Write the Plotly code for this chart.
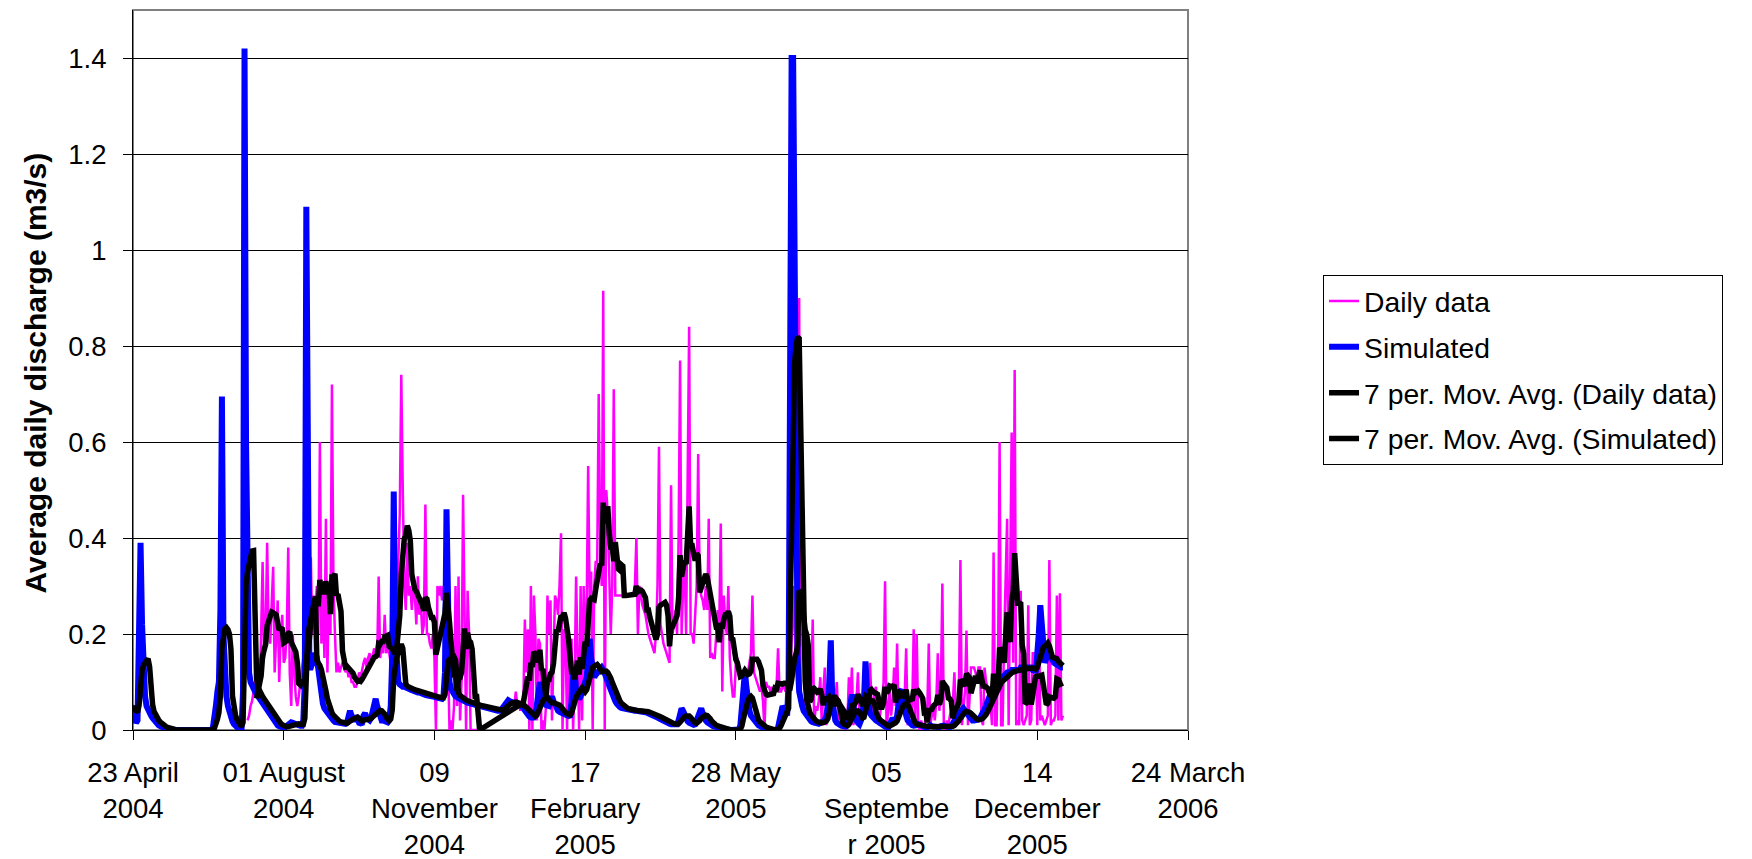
import pandas as pd
import plotly.graph_objects as go

# Series start dates (one value per day)
sim_start = "2004-04-17"
daily_start = "2004-07-08"

# Simulated average daily discharge (m3/s)
simulated = [
    0.05, 0.05, 0.05, 0.05, 0.05, 0.048, 0.045, 0.03, 0.015, 0.02,
    0.15, 0.39, 0.22, 0.12, 0.07, 0.05, 0.04, 0.035, 0.03, 0.025,
    0.02, 0.015, 0.012, 0.01, 0.008, 0.006, 0.005, 0.004, 0.003, 0.002,
    0.001, 0, 0, 0, 0, 0, 0, 0, 0, 0,
    0, 0, 0, 0, 0, 0, 0, 0, 0, 0,
    0, 0, 0, 0, 0, 0, 0, 0, 0, 0.005,
    0.02, 0.05, 0.08, 0.1, 0.25, 0.695, 0.2, 0.1, 0.07, 0.05,
    0.035, 0.025, 0.018, 0.012, 0.008, 0.005, 0.003, 0.002, 0.001, 0.08,
    1.42, 0.6, 0.2, 0.12, 0.1, 0.09, 0.085, 0.08, 0.075, 0.07,
    0.065, 0.06, 0.055, 0.05, 0.045, 0.04, 0.035, 0.03, 0.025, 0.02,
    0.016, 0.013, 0.01, 0.008, 0.006, 0.005, 0.005, 0.006, 0.008, 0.012,
    0.015, 0.016, 0.015, 0.013, 0.012, 0.01, 0.01, 0.009, 0.009, 0.02,
    0.1, 1.09, 0.15, 0.13, 0.13, 0.14, 0.15, 0.16, 0.15, 0.12,
    0.09, 0.07, 0.055, 0.045, 0.04, 0.035, 0.03, 0.025, 0.022, 0.02,
    0.017, 0.016, 0.015, 0.015, 0.014, 0.014, 0.013, 0.013, 0.015, 0.03,
    0.04, 0.03, 0.02, 0.018, 0.03, 0.02, 0.015, 0.014, 0.015, 0.03,
    0.035, 0.025, 0.02, 0.02, 0.025, 0.035, 0.05, 0.065, 0.05, 0.035,
    0.025, 0.02, 0.02, 0.018, 0.017, 0.016, 0.02, 0.05, 0.15, 0.497,
    0.2, 0.12, 0.1, 0.095, 0.09, 0.09, 0.09, 0.088, 0.086, 0.085,
    0.084, 0.083, 0.082, 0.08, 0.08, 0.078, 0.078, 0.076, 0.075, 0.074,
    0.073, 0.072, 0.072, 0.071, 0.07, 0.07, 0.069, 0.068, 0.067, 0.066,
    0.066, 0.065, 0.07, 0.12, 0.46, 0.15, 0.1, 0.085, 0.078, 0.074,
    0.07, 0.068, 0.066, 0.064, 0.062, 0.06, 0.06, 0.058, 0.057, 0.056,
    0.055, 0.054, 0.053, 0.052, 0.051, 0.05, 0.05, 0.049, 0.048, 0.047,
    0.046, 0.045, 0.045, 0.044, 0.043, 0.042, 0.042, 0.041, 0.04, 0.04,
    0.04, 0.045, 0.05, 0.055, 0.06, 0.062, 0.06, 0.058, 0.057, 0.056,
    0.055, 0.055, 0.054, 0.052, 0.05, 0.045, 0.04, 0.035, 0.03, 0.028,
    0.026, 0.025, 0.026, 0.03, 0.05, 0.09, 0.1, 0.07, 0.06, 0.055,
    0.052, 0.05, 0.05, 0.06, 0.07, 0.06, 0.05, 0.045, 0.04, 0.038,
    0.036, 0.034, 0.032, 0.03, 0.03, 0.029, 0.03, 0.06, 0.12, 0.13,
    0.08, 0.07, 0.065, 0.07, 0.08, 0.09, 0.1, 0.11, 0.15, 0.19,
    0.15, 0.12, 0.11, 0.115, 0.12, 0.125, 0.13, 0.13, 0.125, 0.12,
    0.11, 0.1, 0.09, 0.08, 0.07, 0.065, 0.06, 0.055, 0.05, 0.048,
    0.046, 0.045, 0.044, 0.043, 0.042, 0.041, 0.04, 0.04, 0.04, 0.04,
    0.04, 0.04, 0.04, 0.04, 0.039, 0.038, 0.037, 0.036, 0.035, 0.034,
    0.033, 0.032, 0.03, 0.028, 0.026, 0.024, 0.022, 0.02, 0.018, 0.016,
    0.015, 0.014, 0.013, 0.012, 0.012, 0.011, 0.011, 0.012, 0.02, 0.035,
    0.045, 0.04, 0.03, 0.022, 0.018, 0.015, 0.013, 0.012, 0.011, 0.012,
    0.02, 0.03, 0.04, 0.045, 0.035, 0.025, 0.02, 0.016, 0.013, 0.011,
    0.009, 0.008, 0.007, 0.006, 0.005, 0.004, 0.003, 0.002, 0.001, 0,
    0, 0, 0, 0, 0, 0, 0, 0, 0.001, 0.01,
    0.05, 0.1, 0.12, 0.09, 0.06, 0.04, 0.03, 0.025, 0.02, 0.015,
    0.012, 0.01, 0.008, 0.006, 0.004, 0.003, 0.002, 0.001, 0, 0,
    0, 0, 0, 0, 0.005, 0.02, 0.04, 0.05, 0.045, 0.035,
    0.03, 0.1, 1.38, 1.4, 1.4, 1.0, 0.3, 0.15, 0.08, 0.06,
    0.05, 0.04, 0.035, 0.03, 0.025, 0.02, 0.018, 0.016, 0.015, 0.014,
    0.013, 0.013, 0.015, 0.018, 0.02, 0.02, 0.03, 0.05, 0.1, 0.187,
    0.06, 0.03, 0.02, 0.015, 0.012, 0.01, 0.009, 0.008, 0.007, 0.007,
    0.01, 0.03, 0.06, 0.074, 0.05, 0.03, 0.02, 0.015, 0.012, 0.02,
    0.03, 0.06, 0.143, 0.08, 0.05, 0.035, 0.03, 0.025, 0.022, 0.02,
    0.018, 0.015, 0.012, 0.01, 0.008, 0.007, 0.006, 0.005, 0.01, 0.02,
    0.025, 0.02, 0.02, 0.03, 0.06, 0.08, 0.084, 0.06, 0.04, 0.03,
    0.02, 0.015, 0.012, 0.01, 0.009, 0.008, 0.01, 0.012, 0.01, 0.008,
    0.007, 0.006, 0.005, 0.005, 0.008, 0.01, 0.008, 0.007, 0.006, 0.005,
    0.005, 0.006, 0.008, 0.01, 0.009, 0.008, 0.007, 0.006, 0.006, 0.008,
    0.012, 0.02, 0.025, 0.03, 0.035, 0.04, 0.045, 0.045, 0.04, 0.035,
    0.03, 0.025, 0.022, 0.02, 0.02, 0.02, 0.02, 0.022, 0.025, 0.03,
    0.035, 0.04, 0.05, 0.06, 0.07, 0.08, 0.085, 0.09, 0.095, 0.1,
    0.1, 0.105, 0.11, 0.11, 0.115, 0.12, 0.12, 0.12, 0.12, 0.125,
    0.125, 0.125, 0.125, 0.125, 0.125, 0.13, 0.13, 0.13, 0.13, 0.13,
    0.13, 0.13, 0.13, 0.125, 0.125, 0.12, 0.15, 0.2, 0.26, 0.2,
    0.15, 0.14, 0.15, 0.17, 0.16, 0.15, 0.145, 0.14, 0.138, 0.135,
    0.133, 0.132, 0.13, 0.13,
]

# Measured daily discharge (m3/s); None marks days without a record
daily_data = [
    0.02, 0.03, 0.05, 0.06, 0.08, 0.1, 0.12, 0.15,
    0.08, 0.2, 0.35, 0.15, 0.2, 0.39, 0.2, 0.18, 0.25, 0.34,
    0.12, 0.2, 0.27, 0.1, 0.2, 0.24, 0.14, 0.15, 0.2, 0.38,
    0.12, 0.05, 0.2, 0.12, 0.07,
    0.05, 0.07, 0.1, 0.12, 0.15, 0.15, 0.35, 0.2, 0.25, 0.36,
    0.2, 0.28, 0.25, 0.3, 0.2, 0.6, 0.18, 0.3, 0.15, 0.44,
    0.12, 0.3, 0.2, 0.72, 0.3, 0.2, 0.12, 0.14, 0.12, 0.13,
    0.14, 0.15, 0.12, 0.13, 0.11, 0.12, 0.1, 0.1, 0.09, 0.09,
    0.1, 0.12, 0.11, 0.13, 0.14, 0.15, 0.13, 0.15, 0.16, 0.14,
    0.16, 0.17, 0.16, 0.15, 0.32, 0.15, 0.18, 0.16, 0.24, 0.16,
    0.17, 0.16, 0.14, 0.15, 0.13, 0.2, 0.25, 0.35, 0.45, 0.74,
    0.5, 0.3, 0.25, 0.39, 0.28, 0.3, 0.25, 0.3, 0.28, 0.22,
    0.32, 0.24, 0.26, 0.2, 0.22, 0.47, 0.2, 0.2, 0.18, 0.17,
    0.2, 0.15, 0, 0.3, 0.28, 0.3, 0.27, 0.3, 0.25, 0.3,
    0.15, 0, 0.02, 0, 0.05, 0.3, 0.05, 0.32, 0.02, 0.1,
    0.49, 0.2, 0, 0.29, 0.2, 0, 0, 0, 0, 0,
    0, 0,
    *([None] * 22),
    0.05, 0.08, 0.05, 0.06, 0.04, 0.06, 0.06, 0.23, 0.12, 0.21,
    0, 0.3, 0, 0.28, 0.2, 0.02, 0.19, 0.18, 0, 0.02,
    0, 0.05, 0.28, 0.2, 0.27, 0.02, 0.15, 0.28, 0.27, 0.24,
    0.3, 0.41, 0, 0.21, 0.2, 0, 0.2, 0.05, 0.19, 0,
    0.1, 0.32, 0.15, 0, 0.3, 0.02, 0.3, 0.2, 0.25, 0.55,
    0.27, 0.33, 0, 0.3, 0.35, 0.35, 0.7, 0.4, 0.3, 0.915,
    0, 0.5, 0.45, 0.3, 0.2, 0.3, 0.71, 0.28, 0.28, 0.28,
    0.28, 0.28, 0.28, 0.28, 0.28, 0.28, 0.28, 0.28, 0.28, 0.28,
    0.3, 0.4, 0.2, 0.3, 0.28, 0.26, 0.25, 0.24, 0.22, 0.2,
    0.19, 0.18, 0.17, 0.16, 0.2, 0.3, 0.59, 0.22, 0.2, 0.18,
    0.17, 0.16, 0.15, 0.14, 0.51, 0.2, 0.22, 0.25, 0.2, 0.4,
    0.77, 0.2, 0.3, 0.35, 0.2, 0.6, 0.84, 0.2, 0.2, 0.18,
    0.25, 0.3, 0.575, 0.3, 0.28, 0.27, 0.25, 0.3, 0.25, 0.44,
    0.15, 0.16, 0.15, 0.15, 0.2, 0.25, 0.22, 0.43, 0.08, 0.28,
    0.22, 0.2, 0.3, 0.15, 0.1, 0.07, 0.07, 0.14, 0.15, 0.13,
    0.12, 0.11, 0.12, 0.1, 0.11, 0.12, 0.14, 0.16, 0.28, 0.12,
    0.11, 0.1, 0.09, 0.08, 0.09, 0.06, 0, 0.1, 0.09, 0.09,
    0.08, 0.09, 0.08, 0.08, 0.09, 0.17, 0.08, 0.08, 0.09, 0.09,
    0.08, 0.09, 0.1, 0.08, 0.2, 0.3, 0.2, 0.15, 0.2, 0.9,
    0.06, 0.05, 0.04, 0.06, 0.08, 0.05, 0.07, 0.1, 0.23, 0.01,
    0.05, 0.04, 0.06, 0.11, 0.01, 0.08, 0.13, 0.01, 0.05, 0.09,
    0.06, 0.03, 0.05, 0.06, 0.1, 0.02, 0.05, 0.02, 0.01, 0,
    0.03, 0.02, 0.11, 0.05, 0.13, 0.01, 0.04, 0.06, 0.12, 0.02,
    0.04, 0.06, 0.1, 0.09, 0.04, 0.1, 0.14, 0.06, 0.03, 0.08,
    0.09, 0.02, 0.01, 0.04, 0.06, 0.1, 0.31, 0, 0.05, 0.08,
    0.03, 0.06, 0.13, 0.05, 0.18, 0.02, 0.04, 0.06, 0.05, 0.07,
    0.17, 0.01, 0.03, 0.06, 0.04, 0.21, 0.02, 0.2, 0.01, 0,
    0.02, 0, 0.01, 0.03, 0.04, 0.18, 0.01, 0.03, 0.05, 0.02,
    0.06, 0.16, 0.04, 0.08, 0.305, 0.01, 0, 0.02, 0.01, 0.03,
    0.04, 0.06, 0.12, 0.03, 0.05, 0.08, 0.354, 0.01, 0.04, 0.08,
    0.207, 0.01, 0.06, 0.13, 0.13, 0.13, 0.12, 0.1, 0.13, 0.13,
    0.02, 0.01, 0.13, 0.1, 0.09, 0.07, 0.05, 0.01, 0.37, 0.01,
    0.01, 0.15, 0.6, 0.01, 0.01, 0.19, 0.32, 0.44, 0.01, 0.3,
    0.62, 0.14, 0.75, 0.01, 0.02, 0.01, 0.29, 0.02, 0.01, 0.02,
    0.03, 0.26, 0.01, 0.02, 0.16, 0.16, 0.16, 0.01, 0.26, 0.02,
    0.03, 0.02, 0.01, 0.02, 0.03, 0.354, 0.01, 0.02, 0.02, 0.03,
    0.28, 0.02, 0.285, 0.02, 0.03,
]

# Category axis ticks
tick_dates = ["2004-04-23", "2004-08-01", "2004-11-09", "2005-02-17",
              "2005-05-28", "2005-09-05", "2005-12-14", "2006-03-24"]
tick_labels = ["23 April<br>2004", "01 August<br>2004", "09<br>November<br>2004",
               "17<br>February<br>2005", "28 May<br>2005", "05<br>Septembe<br>r 2005",
               "14<br>December<br>2005", "24 March<br>2006"]

sim_dates = pd.date_range(sim_start, periods=len(simulated), freq="D")
daily_dates = pd.date_range(daily_start, periods=len(daily_data), freq="D")

# 7-period trailing moving averages
sim_ma = pd.Series(simulated, dtype=float).rolling(7).mean()
daily_ma = pd.Series(daily_data, dtype=float).rolling(7).mean()

FONT = "Liberation Sans, Arial, Helvetica, sans-serif"

fig = go.Figure()
fig.add_trace(go.Scatter(x=daily_dates, y=daily_data, mode="lines", name="Daily data",
                         legendgroup="a", line=dict(color="#FF00FF", width=2.5)))
fig.add_trace(go.Scatter(x=sim_dates, y=simulated, mode="lines", name="Simulated",
                         legendgroup="b", line=dict(color="#0000FF", width=6)))
fig.add_trace(go.Scatter(x=daily_dates, y=daily_ma, mode="lines",
                         name="7 per. Mov. Avg. (Daily data)", legendgroup="c",
                         connectgaps=True, line=dict(color="#000000", width=5.5)))
fig.add_trace(go.Scatter(x=sim_dates, y=sim_ma, mode="lines",
                         name="7 per. Mov. Avg. (Simulated)", legendgroup="d",
                         line=dict(color="#000000", width=5.5)))

# Plot-area frame
fig.add_shape(type="rect", xref="paper", yref="paper", x0=0, x1=1, y0=0, y1=1,
              line=dict(color="#808080", width=2), layer="below")

fig.add_annotation(text="<b>Average daily discharge (m3/s)</b>", textangle=-90,
                   xref="paper", yref="paper", x=-0.092, y=0.4965,
                   xanchor="center", yanchor="middle", showarrow=False,
                   font=dict(family=FONT, size=30, color="#000000"))

fig.update_layout(
    template="none",
    width=1752, height=859,
    margin=dict(l=133, r=564, t=10, b=129, autoexpand=False),
    paper_bgcolor="white", plot_bgcolor="white",
    font=dict(family=FONT, size=27.5, color="#000000"),
    showlegend=True,
    legend=dict(x=1.128, y=0.6317, xanchor="left", yanchor="top",
                bordercolor="#000000", borderwidth=1, bgcolor="white",
                traceorder="grouped", tracegroupgap=6,
                font=dict(family=FONT, size=28.3, color="#000000")),
    xaxis=dict(type="date", range=["2004-04-23", "2006-03-24"], automargin=False,
               tickmode="array", tickvals=tick_dates, ticktext=tick_labels,
               ticks="outside", ticklen=9, tickwidth=1, tickcolor="#000000",
               ticklabelstandoff=9,
               showgrid=False, zeroline=False,
               showline=True, linecolor="#000000", linewidth=1),
    yaxis=dict(range=[0, 1.5], tick0=0, dtick=0.2, automargin=False,
               ticks="outside", ticklen=9, tickwidth=1, tickcolor="#000000",
               ticklabelstandoff=11,
               showgrid=True, gridcolor="#000000", gridwidth=1, zeroline=False,
               showline=True, linecolor="#000000", linewidth=1),
)

fig.write_html("out.html")
